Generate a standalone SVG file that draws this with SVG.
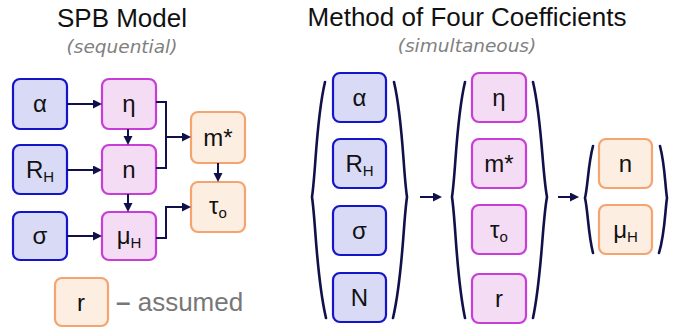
<svg xmlns="http://www.w3.org/2000/svg" width="678" height="329" viewBox="0 0 678 329">
  <style>
    .title { font-family: "Liberation Sans", Arial, sans-serif; font-size: 26px; fill: #111; text-anchor: middle; }
    .sub { font-family: "DejaVu Sans", Verdana, sans-serif; font-style: italic; font-size: 18.5px; fill: #808080; text-anchor: middle; }
    .lbl { font-family: "Liberation Sans", Arial, sans-serif; font-size: 24px; fill: #111; text-anchor: middle; }
    .sb { font-size: 15px; }
    .in rect { fill: #d8daf6; stroke: #1414c8; stroke-width: 2.2; }
    .mid rect { fill: #f5dcf5; stroke: #c83cd8; stroke-width: 2.2; }
    .out rect { fill: #fdeee2; stroke: #f5a470; stroke-width: 2.2; }
    .wire { fill: none; stroke: #10104a; stroke-width: 2; }
    .brace { fill: none; stroke: #10104a; stroke-width: 2.6; stroke-linecap: round; stroke-linejoin: miter; }
  </style>
  <defs>
    <marker id="ah" markerUnits="userSpaceOnUse" markerWidth="10" markerHeight="10" refX="7" refY="4.5" orient="auto">
      <path d="M0,0 L9,4.5 L0,9 z" fill="#10104a"/>
    </marker>
  </defs>

  <!-- headings -->
  <text class="title" x="122" y="27">SPB Model</text>
  <text class="sub" x="122" y="53">(sequential)</text>
  <text class="title" x="467" y="26">Method of Four Coefficients</text>
  <text class="sub" x="467" y="52">(simultaneous)</text>

  <!-- SPB model: inputs -->
  <g id="spb-alpha" class="in"><rect x="13" y="79" width="54" height="50" rx="7"/><text class="lbl" x="40" y="112">α</text></g>
  <g id="spb-rh" class="in"><rect x="13" y="145" width="54" height="49" rx="7"/><text class="lbl" x="40" y="178">R<tspan class="sb" dy="4">H</tspan></text></g>
  <g id="spb-sigma" class="in"><rect x="13" y="212" width="54" height="48" rx="7"/><text class="lbl" x="40" y="244">σ</text></g>

  <!-- SPB model: derived -->
  <g id="spb-eta" class="mid"><rect x="102" y="79" width="54" height="50" rx="7"/><text class="lbl" x="129" y="112">η</text></g>
  <g id="spb-n" class="mid"><rect x="102" y="145" width="54" height="49" rx="7"/><text class="lbl" x="129" y="178">n</text></g>
  <g id="spb-mu" class="mid"><rect x="102" y="212" width="54" height="48" rx="7"/><text class="lbl" x="129" y="244">μ<tspan class="sb" dy="4">H</tspan></text></g>

  <!-- SPB model: outputs -->
  <g id="spb-mstar" class="out"><rect x="191" y="112" width="54" height="51" rx="7"/><text class="lbl" x="218" y="146">m*</text></g>
  <g id="spb-tau" class="out"><rect x="191" y="182" width="54" height="50" rx="7"/><text class="lbl" x="218" y="214">τ<tspan class="sb" dy="4">o</tspan></text></g>

  <!-- legend -->
  <g id="legend" class="out"><rect x="55" y="278" width="53" height="48" rx="7"/><text class="lbl" x="81" y="311">r</text>
    <text x="116" y="311" style="font-family:'Liberation Sans',Arial,sans-serif;font-size:26px;fill:#777"><tspan font-weight="bold">–</tspan> assumed</text></g>

  <!-- SPB model connectors -->
  <g id="spb-links">
    <path class="wire" d="M67,104 H100" marker-end="url(#ah)"/>
    <path class="wire" d="M67,170 H100" marker-end="url(#ah)"/>
    <path class="wire" d="M67,236 H100" marker-end="url(#ah)"/>
    <path class="wire" d="M128,129 V143" marker-end="url(#ah)"/>
    <path class="wire" d="M128,194 V210" marker-end="url(#ah)"/>
    <path class="wire" d="M156,102 H166 V168 H156"/>
    <path class="wire" d="M166,137 H189" marker-end="url(#ah)"/>
    <path class="wire" d="M156,238 H166 V207 H189" marker-end="url(#ah)"/>
    <path class="wire" d="M218,163 V180" marker-end="url(#ah)"/>
  </g>

  <!-- Four-coefficient method: measured set -->
  <g id="mfc-alpha" class="in"><rect x="333" y="73" width="53" height="49" rx="7"/><text class="lbl" x="359.5" y="105.5">α</text></g>
  <g id="mfc-rh" class="in"><rect x="333" y="139" width="53" height="49" rx="7"/><text class="lbl" x="359.5" y="171.5">R<tspan class="sb" dy="4">H</tspan></text></g>
  <g id="mfc-sigma" class="in"><rect x="333" y="206" width="53" height="49" rx="7"/><text class="lbl" x="359.5" y="238.5">σ</text></g>
  <g id="mfc-N" class="in"><rect x="333" y="273" width="53" height="49" rx="7"/><text class="lbl" x="359.5" y="306">N</text></g>

  <!-- Four-coefficient method: solved set -->
  <g id="mfc-eta" class="mid"><rect x="472" y="73" width="54" height="49" rx="7"/><text class="lbl" x="499" y="105.5">η</text></g>
  <g id="mfc-mstar" class="mid"><rect x="472" y="139" width="54" height="49" rx="7"/><text class="lbl" x="499" y="172">m*</text></g>
  <g id="mfc-tau" class="mid"><rect x="472" y="205" width="54" height="49" rx="7"/><text class="lbl" x="499" y="237.5">τ<tspan class="sb" dy="4">o</tspan></text></g>
  <g id="mfc-r" class="mid"><rect x="472" y="274" width="54" height="49" rx="7"/><text class="lbl" x="499" y="307">r</text></g>

  <!-- Four-coefficient method: results -->
  <g id="mfc-n" class="out"><rect x="599" y="139" width="53" height="49" rx="7"/><text class="lbl" x="625.5" y="171.5">n</text></g>
  <g id="mfc-mu" class="out"><rect x="599" y="205" width="53" height="49" rx="7"/><text class="lbl" x="625.5" y="237.5">μ<tspan class="sb" dy="4">H</tspan></text></g>

  <!-- braces and flow arrows -->
  <g id="mfc-links">
    <path class="brace" d="M325,82 C316,120 316,170 312,197 C316,224 316,275 326,318"/>
    <path class="brace" d="M394,82 C403,120 403,170 407,197 C403,224 403,275 393,318"/>
    <path class="brace" d="M465,82 C456,120 456,170 452,197 C456,224 456,275 465,318"/>
    <path class="brace" d="M533,82 C542,120 542,170 547,197 C542,224 542,275 533,318"/>
    <path class="brace" d="M593,146 C588,165 588,185 585,198 C588,211 588,233 593,253"/>
    <path class="brace" d="M660,146 C665,165 665,185 667,198 C665,211 665,233 659,253"/>
    <path class="wire" d="M420,197 H440" marker-end="url(#ah)"/>
    <path class="wire" d="M558,197 H577" marker-end="url(#ah)"/>
  </g>
</svg>
